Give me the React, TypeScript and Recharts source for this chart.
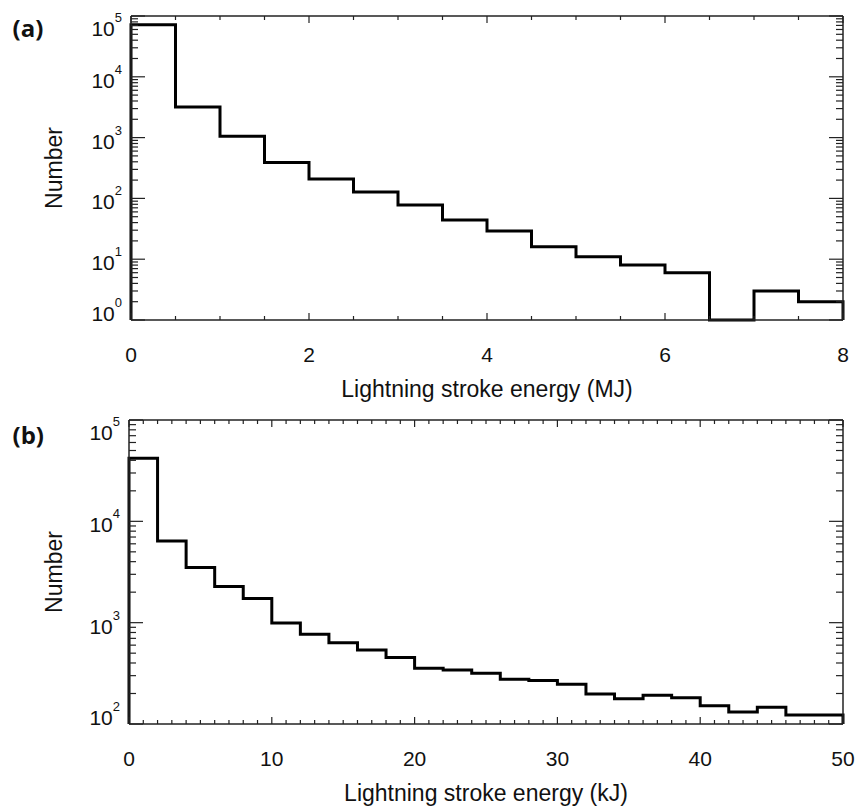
import { Label, Line, LineChart, XAxis, YAxis } from "recharts";

// panel (a): stroke energy in MJ, 0.5 MJ bins
const mjEdges = [0, 0.5, 1, 1.5, 2, 2.5, 3, 3.5, 4, 4.5, 5, 5.5, 6, 6.5, 7, 7.5, 8];
const mjCounts = [72000, 3200, 1050, 390, 208, 127, 78, 44, 29, 16, 11, 8, 6, 1, 3, 2];
const mjMajorTicks = [0, 2, 4, 6, 8];
const mjMinorTicks = [0.5, 1, 1.5, 2.5, 3, 3.5, 4.5, 5, 5.5, 6.5, 7, 7.5];
const mjDecades = [1, 10, 100, 1000, 10000, 100000];

// panel (b): stroke energy in kJ, 2 kJ bins
const kjEdges = [
  0, 2, 4, 6, 8, 10, 12, 14, 16, 18, 20, 22, 24, 26, 28, 30, 32, 34, 36, 38, 40,
  42, 44, 46, 48, 50,
];
const kjCounts = [
  42000, 6400, 3500, 2270, 1730, 990, 770, 635, 537, 452, 355, 341, 317, 276, 268,
  247, 198, 177, 192, 182, 151, 131, 146, 123, 123,
];
const kjMajorTicks = [0, 10, 20, 30, 40, 50];
const kjMinorTicks = Array.from({ length: 49 }, (_, i) => i + 1).filter(
  (v) => v % 10 !== 0
);
const kjDecades = [100, 1000, 10000, 100000];

const AXIS = "#222";
const FONT = "'Liberation Sans', Arial, sans-serif";
const W = 857;
const H = 404;

function logTicks(decades: number[]) {
  const out: number[] = [];
  decades.slice(0, -1).forEach((d) => {
    for (let k = 1; k <= 9; k++) out.push(d * k);
  });
  out.push(decades[decades.length - 1]);
  return out;
}

function buildSteps(edges: number[], counts: number[], floor: number) {
  const last = edges[edges.length - 1];
  const pts = [{ x: edges[0], y: floor }];
  counts.forEach((c, i) => pts.push({ x: edges[i], y: c }));
  pts.push({ x: last, y: counts[counts.length - 1] });
  pts.push({ x: last, y: floor });
  return pts;
}

type PanelProps = {
  tag: string;
  tagY: number;
  title: string;
  edges: number[];
  counts: number[];
  majorX: number[];
  minorX: number[];
  decades: number[];
  leftWidth: number;
  ylabelX: number;
};

function Panel(props: PanelProps) {
  const { edges, counts, majorX, minorX, decades, leftWidth } = props;
  const yMin = decades[0];
  const yMax = decades[decades.length - 1];
  const xMax = edges[edges.length - 1];
  const data = buildSteps(edges, counts, yMin);
  const yTicks = logTicks(decades);
  const xTicks = [...majorX, ...minorX].sort((a, b) => a - b);
  const plotTop = 16;
  const plotBottom = 320;
  const plotRight = W - 14;
  const plotCx = (leftWidth + plotRight) / 2;

  const leftTick = (p: any) => {
    const v = p.payload.value;
    const major = decades.includes(v);
    const exp = Math.round(Math.log10(v));
    const shift = v === yMax ? 9 : v === yMin ? -10 : 0;
    return (
      <g>
        <line x1={p.x} x2={p.x + (major ? 14 : 7)} y1={p.y} y2={p.y} stroke={AXIS} strokeWidth={1.2} />
        {major && (
          <text x={p.x - 9} y={p.y + 11 + shift} textAnchor="end" fontSize={21} fill="#111">
            10
            <tspan dy={-14} fontSize={13}>
              {exp}
            </tspan>
          </text>
        )}
      </g>
    );
  };

  const rightTick = (p: any) => {
    const major = decades.includes(p.payload.value);
    return (
      <line x1={p.x} x2={p.x - (major ? 14 : 7)} y1={p.y} y2={p.y} stroke={AXIS} strokeWidth={1.2} />
    );
  };

  const bottomTick = (p: any) => {
    const v = p.payload.value;
    const major = majorX.includes(v);
    return (
      <g>
        <line x1={p.x} x2={p.x} y1={p.y} y2={p.y - (major ? 7 : 4)} stroke={AXIS} strokeWidth={1.2} />
        {major && (
          <text x={p.x} y={p.y + 42} textAnchor="middle" fontSize={21} fill="#111">
            {v}
          </text>
        )}
      </g>
    );
  };

  const topTick = (p: any) => {
    const major = majorX.includes(p.payload.value);
    return (
      <line x1={p.x} x2={p.x} y1={p.y} y2={p.y + (major ? 7 : 4)} stroke={AXIS} strokeWidth={1.2} />
    );
  };

  return (
    <LineChart
      width={W}
      height={H}
      data={data}
      margin={{ top: plotTop - 1, right: W - plotRight - 1, bottom: 0, left: 0 }}
    >
      <XAxis
        dataKey="x"
        type="number"
        domain={[0, xMax]}
        ticks={xTicks}
        interval={0}
        tickSize={0}
        tickMargin={0}
        tickLine={false}
        height={H - plotBottom}
        axisLine={{ stroke: AXIS, strokeWidth: 1.5 }}
        tick={bottomTick}
      >
        <Label
          content={() => (
            <text x={plotCx} y={397} textAnchor="middle" fontSize={23} fill="#111">
              {props.title}
            </text>
          )}
        />
      </XAxis>
      <XAxis
        xAxisId="top"
        orientation="top"
        dataKey="x"
        type="number"
        domain={[0, xMax]}
        allowDataOverflow
        ticks={xTicks}
        interval={0}
        tickSize={0}
        tickMargin={0}
        tickLine={false}
        height={1}
        axisLine={{ stroke: AXIS, strokeWidth: 1.5 }}
        tick={topTick}
      />
      <YAxis
        type="number"
        scale="log"
        domain={[yMin, yMax]}
        ticks={yTicks}
        interval={0}
        tickSize={0}
        tickMargin={0}
        tickLine={false}
        width={leftWidth}
        axisLine={{ stroke: AXIS, strokeWidth: 1.5 }}
        tick={leftTick}
      >
        <Label
          content={() => (
            <text
              x={props.ylabelX}
              y={(plotTop + plotBottom) / 2}
              transform={`rotate(-90 ${props.ylabelX} ${(plotTop + plotBottom) / 2})`}
              textAnchor="middle"
              fontSize={23}
              fill="#111"
            >
              Number
            </text>
          )}
        />
        <Label
          content={() => (
            <text
              x={12.5}
              y={props.tagY}
              fontSize={24}
              fontWeight={700}
              fontFamily="'Open Sans', sans-serif"
              fill="#111"
            >
              {props.tag}
            </text>
          )}
        />
      </YAxis>
      <YAxis
        yAxisId="right"
        orientation="right"
        type="number"
        scale="log"
        domain={[yMin, yMax]}
        allowDataOverflow
        ticks={yTicks}
        interval={0}
        tickSize={0}
        tickMargin={0}
        tickLine={false}
        width={1}
        axisLine={{ stroke: AXIS, strokeWidth: 1.5 }}
        tick={rightTick}
      />
      <Line
        type="stepAfter"
        dataKey="y"
        stroke="#000"
        strokeWidth={3}
        dot={false}
        activeDot={false}
        isAnimationActive={false}
      />
    </LineChart>
  );
}

export default function App() {
  return (
    <div
      style={{
        position: "absolute",
        left: 0,
        top: 0,
        width: W,
        height: 2 * H,
        background: "#fff",
        fontFamily: FONT,
      }}
    >
      <div style={{ position: "absolute", left: 0, top: 0 }}>
        <Panel
          tag="(a)"
          tagY={37}
          title="Lightning stroke energy (MJ)"
          edges={mjEdges}
          counts={mjCounts}
          majorX={mjMajorTicks}
          minorX={mjMinorTicks}
          decades={mjDecades}
          leftWidth={131}
          ylabelX={62}
        />
      </div>
      <div style={{ position: "absolute", left: 0, top: H }}>
        <Panel
          tag="(b)"
          tagY={40}
          title="Lightning stroke energy (kJ)"
          edges={kjEdges}
          counts={kjCounts}
          majorX={kjMajorTicks}
          minorX={kjMinorTicks}
          decades={kjDecades}
          leftWidth={129}
          ylabelX={61.5}
        />
      </div>
    </div>
  );
}
